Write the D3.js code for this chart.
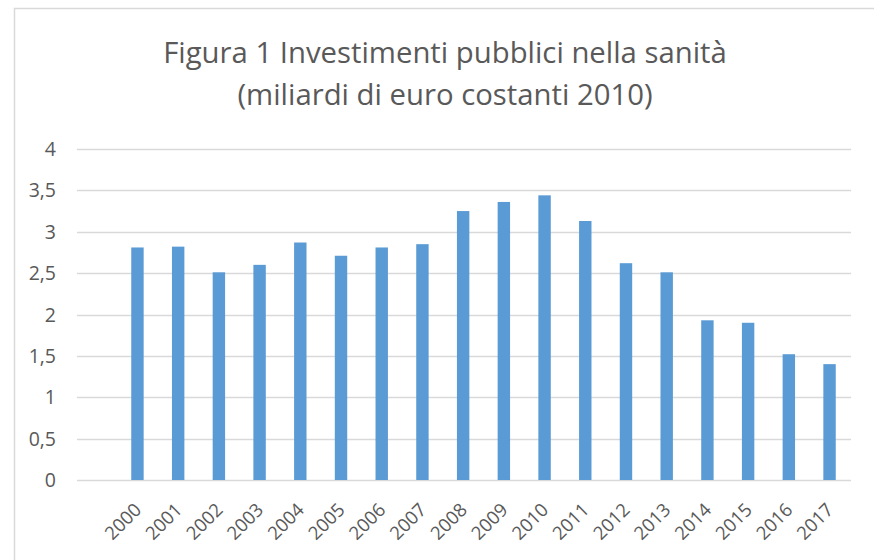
<!DOCTYPE html>
<html>
<head>
<meta charset="utf-8">
<script src="https://cdn.jsdelivr.net/npm/d3@7"></script>
<style>
  html, body { margin: 0; padding: 0; background: #fff; }
  svg { display: block; }
  text { font-family: "Open Sans", "Noto Sans", sans-serif; fill: #595959; }
</style>
</head>
<body>
<svg id="chart" width="874" height="560"></svg>
<script>
const years = ["2000","2001","2002","2003","2004","2005","2006","2007","2008","2009","2010","2011","2012","2013","2014","2015","2016","2017"];
const values = [2.81, 2.82, 2.51, 2.60, 2.87, 2.71, 2.81, 2.85, 3.25, 3.36, 3.44, 3.13, 2.62, 2.51, 1.93, 1.90, 1.52, 1.40];
const yTicks = [0, 0.5, 1, 1.5, 2, 2.5, 3, 3.5, 4];
const titleLines = ["Figura 1 Investimenti pubblici nella sanità", "(miliardi di euro costanti 2010)"];

const svg = d3.select("#chart");

// chart frame
svg.append("path")
  .attr("d", "M14.5,560 L14.5,8.5 L874,8.5")
  .attr("fill", "none")
  .attr("stroke", "#d9d9d9")
  .attr("stroke-width", 1.5);

const gridLeft = 77, gridRight = 851;
const y = d3.scaleLinear().domain([0, 4]).range([480, 149]);
const x = d3.scaleBand().domain(years).range([117, 850]).paddingInner(0.695).paddingOuter(0.35);

// gridlines
svg.append("g")
  .selectAll("line")
  .data(yTicks)
  .join("line")
  .attr("x1", gridLeft).attr("x2", gridRight)
  .attr("y1", d => Math.round(y(d)) + 0.5)
  .attr("y2", d => Math.round(y(d)) + 0.5)
  .attr("stroke", "#d9d9d9")
  .attr("stroke-width", 1.5);

// y axis labels
const fmt = d => String(d).replace(".", ",");
svg.append("g")
  .selectAll("text")
  .data(yTicks)
  .join("text")
  .attr("x", 56)
  .attr("y", d => y(d))
  .attr("dy", "0.36em")
  .attr("text-anchor", "end")
  .style("font-size", "19.5px")
  .text(fmt);

// bars
svg.append("g")
  .selectAll("rect")
  .data(years)
  .join("rect")
  .attr("x", d => x(d))
  .attr("width", x.bandwidth())
  .attr("y", (d, i) => y(values[i]))
  .attr("height", (d, i) => y(0) - y(values[i]))
  .attr("fill", "#5b9bd5");

// x labels
svg.append("g")
  .selectAll("text")
  .data(years)
  .join("text")
  .attr("transform", d => `translate(${x(d) + x.bandwidth() / 2 + 5},${511}) rotate(-45)`)
  .attr("text-anchor", "end")
  .style("font-size", "18.5px")
  .text(d => d);

// title
svg.append("g")
  .selectAll("text")
  .data(titleLines)
  .join("text")
  .attr("x", 445)
  .attr("y", (d, i) => 63 + i * 42)
  .attr("text-anchor", "middle")
  .style("font-size", "29.3px")
  .text(d => d);
</script>
</body>
</html>
